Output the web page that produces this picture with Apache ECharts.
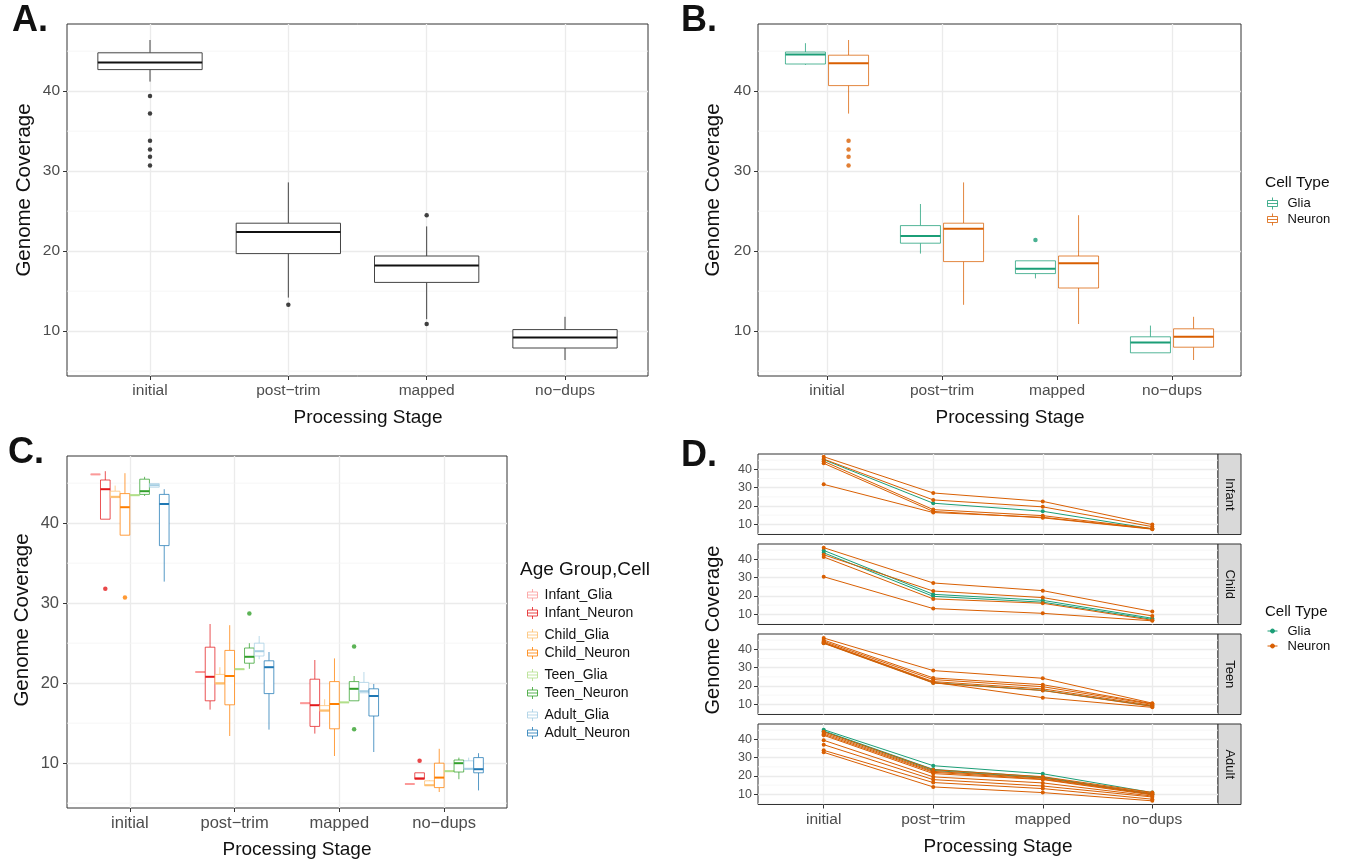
<!DOCTYPE html>
<html>
<head>
<meta charset="utf-8">
<script src="https://cdn.jsdelivr.net/npm/echarts@6/dist/echarts.min.js"></script>
<style>
  html, body { margin: 0; padding: 0; background: #fff; }
  #chart { width: 1346px; height: 861px; }
</style>
</head>
<body>
<div id="chart"></div>
<script>
// ---------- shared scales ----------
const stages = ['initial', 'post\u2212trim', 'mapped', 'no\u2212dups'];
const stageIdx = [0, 1, 2, 3];
const yTicks = [10, 20, 30, 40];
const yMinor = [5, 15, 25, 35, 45];
const yRange = [4.4, 48.4];

// ---------- A: all samples, [lower whisker, Q1, median, Q3, upper whisker] per stage ----------
const allBox = [
  [41.2, 42.7, 43.6, 44.8, 46.4],
  [14.2, 19.7, 22.4, 23.5, 28.6],
  [11.5, 16.1, 18.2, 19.4, 23.1],
  [6.4, 7.9, 9.2, 10.2, 11.8]
];
const allOut = [[39.4, 37.2, 33.8, 32.7, 31.8, 30.7], [13.3], [24.5, 10.9], []];

// ---------- B: by cell type ----------
const gliaBox = [
  [43.3, 43.4, 44.6, 44.9, 46.0],
  [19.7, 21.0, 21.9, 23.2, 25.9],
  [16.6, 17.2, 17.8, 18.8, 18.8],
  [7.3, 7.3, 8.6, 9.3, 10.7]
];
const gliaOut = [[], [], [21.4], []];
const neuronBox = [
  [37.2, 40.7, 43.5, 44.5, 46.4],
  [13.3, 18.7, 22.8, 23.5, 28.6],
  [10.9, 15.4, 18.5, 19.4, 24.5],
  [6.4, 8.0, 9.3, 10.3, 11.8]
];
const neuronOut = [[33.8, 32.7, 31.8, 30.7], [], [], []];

// ---------- C: by age group and cell type ----------
const infantGliaBox = [[46.1, 46.1, 46.1, 46.1, 46.1], [21.4, 21.4, 21.4, 21.4, 21.4], [17.5, 17.5, 17.5, 17.5, 17.5], [7.4, 7.4, 7.4, 7.4, 7.4]];
const infantGliaOut = [[], [], [], []];
const infantNeuronBox = [[40.5, 40.5, 44.25, 45.4, 46.5], [16.7, 17.8, 20.8, 24.5, 27.4], [13.7, 14.6, 17.25, 20.5, 22.9], [8.0, 8.0, 8.1, 8.8, 8.8]];
const infantNeuronOut = [[31.8], [], [], [10.3]];
const childGliaBox = [[43.2, 43.2, 43.3, 44.0, 44.7], [19.9, 19.9, 20.0, 21.1, 22.0], [16.5, 16.5, 16.6, 17.2, 18.0], [7.2, 7.2, 7.25, 7.8, 7.9]];
const childGliaOut = [[], [], [], []];
const childNeuronBox = [[38.5, 38.5, 42.0, 43.7, 46.25], [13.4, 17.3, 20.9, 24.1, 27.25], [10.9, 14.3, 17.4, 20.2, 23.1], [6.4, 6.95, 8.2, 10.0, 11.8]];
const childNeuronOut = [[30.7], [], [], []];
const teenGliaBox = [[43.5, 43.5, 43.5, 43.5, 43.5], [21.75, 21.75, 21.75, 21.75, 21.75], [17.6, 17.6, 17.6, 17.6, 17.6], [9.0, 9.0, 9.0, 9.0, 9.0]];
const teenGliaOut = [[], [], [], []];
const teenNeuronBox = [[43.4, 43.6, 44.0, 45.5, 45.8], [21.8, 22.5, 23.3, 24.4, 25.0], [17.8, 17.8, 19.3, 20.2, 20.9], [8.0, 8.9, 10.0, 10.4, 10.7]];
const teenNeuronOut = [[], [28.7], [24.6, 14.25], []];
const adultGliaBox = [[44.5, 44.5, 44.75, 44.95, 44.95], [23.0, 23.4, 24.0, 25.0, 25.9], [18.8, 18.8, 19.0, 20.1, 21.4], [9.25, 9.25, 9.3, 10.3, 10.7]];
const adultGliaOut = [[], [], [], []];
const adultNeuronBox = [[32.7, 37.2, 42.4, 43.6, 44.25], [14.2, 18.7, 22.0, 22.8, 23.9], [11.4, 15.9, 18.4, 19.3, 19.9], [6.6, 8.8, 9.25, 10.7, 11.25]];
const adultNeuronOut = [[], [], [], []];

const groupNames = ['Infant_Glia', 'Infant_Neuron', 'Child_Glia', 'Child_Neuron', 'Teen_Glia', 'Teen_Neuron', 'Adult_Glia', 'Adult_Neuron'];

// ---------- D: one line per sample, values at the four stages ----------
const ageGroups = ['Infant', 'Child', 'Teen', 'Adult'];
const infantGliaLines = [[45.3, 21.5, 17.1, 7.5]];
const infantNeuronLines = [
  [46.9, 27.1, 22.5, 9.8], [45.6, 23.3, 19.5, 8.7], [44.4, 18.0, 14.7, 7.6],
  [43.3, 17.0, 13.5, 7.3], [31.8, 16.4, 13.8, 7.5]
];
const childGliaLines = [[44.9, 20.9, 17.6, 7.8], [43.6, 19.8, 16.6, 7.2]];
const childNeuronLines = [
  [46.4, 27.1, 22.9, 11.5], [42.5, 22.7, 19.1, 9.1], [41.3, 18.4, 16.0, 6.7], [30.5, 13.1, 10.5, 6.4]
];
const teenGliaLines = [[43.5, 21.8, 17.6, 9.0]];
const teenNeuronLines = [
  [46.2, 28.4, 24.2, 10.6], [45.1, 24.4, 20.7, 10.3], [44.4, 23.5, 19.6, 10.0],
  [43.8, 22.4, 18.4, 9.4], [43.3, 21.6, 17.5, 8.8], [43.6, 22.0, 13.6, 8.3]
];
const adultGliaLines = [[45.3, 25.6, 21.2, 10.9], [44.6, 23.6, 19.4, 10.2], [44.3, 23.0, 19.0, 9.9]];
const adultNeuronLines = [
  [44.2, 23.4, 19.6, 11.0], [43.5, 22.5, 18.8, 10.5], [42.8, 22.0, 18.3, 10.0], [42.2, 21.3, 18.0, 9.6],
  [39.5, 19.5, 16.2, 9.0], [37.1, 18.0, 14.5, 8.5], [34.0, 16.4, 13.1, 7.3], [32.9, 14.0, 10.9, 6.4]
];

// ---------- styling ----------
const FONT = '"Liberation Sans", Arial, Helvetica, sans-serif';
const GLIA = '#1b9e77', NEURON = '#d95f02';
const groupColors = ['#fb9a99', '#e31a1c', '#fdbf6f', '#ff7f00', '#b2df8a', '#33a02c', '#a6cee3', '#1f78b4'];
const TICK_TEXT = '#4d4d4d', TITLE_TEXT = '#111', BORDER = '#333';
const GRID_MAJOR = '#ebebeb', GRID_MINOR = '#f5f5f5';
const BOX_ICON = 'path://M5,0V3M0,3H10V9H0ZM0,6H10M5,9V12';
const LINE_ICON = 'path://M0,2H10M3,2a2,2 0 1 0 4,0a2,2 0 1 0 -4,0';

function rgba(hex, a) {
  const n = parseInt(hex.slice(1), 16);
  return 'rgba(' + ((n >> 16) & 255) + ',' + ((n >> 8) & 255) + ',' + (n & 255) + ',' + a + ')';
}

// panel layout (pixels)
const grids = [
  { left: 67, top: 24, width: 581, height: 352 },     // A
  { left: 758, top: 24, width: 483, height: 352 },    // B
  { left: 67, top: 456, width: 440, height: 352 },    // C
  { left: 758, top: 454, width: 460, height: 80.5 },  // D Infant
  { left: 758, top: 544, width: 460, height: 80.5 },  // D Child
  { left: 758, top: 634, width: 460, height: 80.5 },  // D Teen
  { left: 758, top: 724, width: 460, height: 80.5 }   // D Adult
].map(g => Object.assign({ show: true, borderColor: BORDER, borderWidth: 1, backgroundColor: '#fff', containLabel: false, outerBoundsMode: 'none' }, g));

function xAxisFor(gi, showLabels, fontSize) {
  return {
    type: 'value', gridIndex: gi, min: -0.6, max: 3.6, position: 'bottom',
    axisLine: { show: false, onZero: false },
    axisTick: { show: showLabels, customValues: stageIdx, length: 4, lineStyle: { color: BORDER } },
    axisLabel: {
      show: showLabels, customValues: stageIdx, formatter: v => stages[Math.round(v)] || '',
      color: TICK_TEXT, fontSize: fontSize, fontFamily: FONT, margin: 7
    },
    splitLine: { show: true, lineStyle: { color: GRID_MAJOR, width: 1.3 } }
  };
}
function yAxisFor(gi, fontSize, margin) {
  return {
    type: 'value', gridIndex: gi, min: yRange[0], max: yRange[1], position: 'left',
    axisLine: { show: false, onZero: false },
    axisTick: { show: true, customValues: yTicks, length: 4, lineStyle: { color: BORDER } },
    axisLabel: { customValues: yTicks, color: TICK_TEXT, fontSize: fontSize, fontFamily: FONT, margin: margin },
    splitLine: { show: true, lineStyle: { color: GRID_MAJOR, width: 1.3 } }
  };
}

function minorGrid(gi) {
  return {
    type: 'custom', xAxisIndex: gi, yAxisIndex: gi, z: 1, silent: true,
    data: yMinor.map(v => [0, v]), encode: { x: 0, y: 1 },
    renderItem: (params, api) => {
      const cs = params.coordSys;
      const y = api.coord([0, api.value(1)])[1];
      return { type: 'line', shape: { x1: cs.x, y1: y, x2: cs.x + cs.width, y2: y }, style: { stroke: GRID_MINOR, lineWidth: 0.8 } };
    }
  };
}

function boxSeries(name, gi, boxes, offset, halfW, color, lineColor) {
  const stroke = lineColor || rgba(color, 0.75);
  return {
    type: 'custom', name: name, xAxisIndex: gi, yAxisIndex: gi, z: 3, silent: true,
    itemStyle: { color: color },
    encode: { x: 0, y: [1, 2, 3, 4, 5] },
    data: boxes.map((b, i) => [stageIdx[i] + offset].concat(b)),
    renderItem: (params, api) => {
      const x = api.value(0);
      const pt = k => api.coord([x, api.value(k)]);
      const lo = pt(1), q1 = pt(2), md = pt(3), q3 = pt(4), hi = pt(5);
      const xl = api.coord([x - halfW, yRange[0]])[0];
      const xr = api.coord([x + halfW, yRange[0]])[0];
      const cx = lo[0];
      return {
        type: 'group', children: [
          { type: 'line', shape: { x1: cx, y1: hi[1], x2: cx, y2: q3[1] }, style: { stroke: stroke, lineWidth: 1 } },
          { type: 'line', shape: { x1: cx, y1: q1[1], x2: cx, y2: lo[1] }, style: { stroke: stroke, lineWidth: 1 } },
          { type: 'rect', shape: { x: xl, y: q3[1], width: xr - xl, height: Math.max(q1[1] - q3[1], 0) }, style: { fill: '#fff', stroke: stroke, lineWidth: 1 } },
          { type: 'line', shape: { x1: xl, y1: md[1], x2: xr, y2: md[1] }, style: { stroke: color, lineWidth: 2 } }
        ]
      };
    }
  };
}

function outlierSeries(name, gi, outs, offset, color) {
  const data = [];
  outs.forEach((vals, i) => vals.forEach(v => data.push([stageIdx[i] + offset, v])));
  return {
    type: 'scatter', name: name, xAxisIndex: gi, yAxisIndex: gi, z: 4, silent: true,
    symbol: 'circle', symbolSize: 4.5, itemStyle: { color: color }, data: data
  };
}

function lineSeries(name, gi, vals, color) {
  return {
    type: 'line', name: name, xAxisIndex: gi, yAxisIndex: gi, z: 3, silent: true,
    data: vals.map((v, i) => [stageIdx[i], v]),
    symbol: 'circle', symbolSize: 4, showSymbol: true,
    lineStyle: { color: color, width: 1 }, itemStyle: { color: color }
  };
}

// ---------- axes ----------
const xAxes = [xAxisFor(0, true, 15.5), xAxisFor(1, true, 15.5), xAxisFor(2, true, 16.5),
  xAxisFor(3, false, 15), xAxisFor(4, false, 15), xAxisFor(5, false, 15), xAxisFor(6, true, 15.5)];
const yAxes = [yAxisFor(0, 15.5, 7), yAxisFor(1, 15.5, 7), yAxisFor(2, 16.5, 8),
  yAxisFor(3, 12.5, 6), yAxisFor(4, 12.5, 6), yAxisFor(5, 12.5, 6), yAxisFor(6, 12.5, 6)];

// ---------- series ----------
const series = [];
for (let gi = 0; gi < 7; gi++) series.push(minorGrid(gi));

// A
series.push(boxSeries('All samples', 0, allBox, 0, 0.377, '#111', '#444'));
series.push(outlierSeries('All samples', 0, allOut, 0, '#111'));

// B
series.push(boxSeries('Glia', 1, gliaBox, -0.1875, 0.174, GLIA));
series.push(outlierSeries('Glia', 1, gliaOut, -0.1875, GLIA));
series.push(boxSeries('Neuron', 1, neuronBox, 0.1875, 0.174, NEURON));
series.push(outlierSeries('Neuron', 1, neuronOut, 0.1875, NEURON));

// C
const cBoxes = [infantGliaBox, infantNeuronBox, childGliaBox, childNeuronBox, teenGliaBox, teenNeuronBox, adultGliaBox, adultNeuronBox];
const cOuts = [infantGliaOut, infantNeuronOut, childGliaOut, childNeuronOut, teenGliaOut, teenNeuronOut, adultGliaOut, adultNeuronOut];
cBoxes.forEach((boxes, k) => {
  const off = (k - 3.5) * 0.09375;
  series.push(boxSeries(groupNames[k], 2, boxes, off, 0.046, groupColors[k]));
  series.push(outlierSeries(groupNames[k], 2, cOuts[k], off, groupColors[k]));
});

// D
const dGlia = [infantGliaLines, childGliaLines, teenGliaLines, adultGliaLines];
const dNeuron = [infantNeuronLines, childNeuronLines, teenNeuronLines, adultNeuronLines];
ageGroups.forEach((age, r) => {
  dGlia[r].forEach(v => series.push(lineSeries('Glia', 3 + r, v, GLIA)));
  dNeuron[r].forEach(v => series.push(lineSeries('Neuron', 3 + r, v, NEURON)));
});

// ---------- legends ----------
function boxLegendItem(name, color) {
  return { name: name, icon: BOX_ICON, itemStyle: { color: '#fff', borderColor: rgba(color, 0.8), borderWidth: 1 } };
}
const legendText = size => ({ fontFamily: FONT, fontSize: size, color: TITLE_TEXT, lineHeight: 12, padding: [0, 0, 0, 2] });
const legends = [
  {
    left: 1267, top: 197, orient: 'vertical', itemWidth: 10, itemHeight: 12, itemGap: 3, padding: 0, selectedMode: false,
    textStyle: Object.assign(legendText(13), { padding: [0, 0, 0, 5] }),
    data: [boxLegendItem('Glia', GLIA), boxLegendItem('Neuron', NEURON)]
  },
  {
    left: 1267, top: 624.5, orient: 'vertical', itemWidth: 10, itemHeight: 4, itemGap: 2, padding: 0, selectedMode: false,
    textStyle: { fontFamily: FONT, fontSize: 13, color: TITLE_TEXT, lineHeight: 13, padding: [0, 0, 0, 5] },
    data: [
      { name: 'Glia', icon: LINE_ICON, itemStyle: { color: GLIA, borderColor: GLIA, borderWidth: 1 } },
      { name: 'Neuron', icon: LINE_ICON, itemStyle: { color: NEURON, borderColor: NEURON, borderWidth: 1 } }
    ]
  }
];
[0, 1, 2, 3].forEach(p => {
  legends.push({
    left: 527, top: 588 + 40 * p, orient: 'vertical', itemWidth: 10, itemHeight: 12, itemGap: 4, padding: 0, selectedMode: false,
    textStyle: legendText(14),
    data: [boxLegendItem(groupNames[2 * p], groupColors[2 * p]), boxLegendItem(groupNames[2 * p + 1], groupColors[2 * p + 1])]
  });
});

// ---------- titles, axis titles and facet strips ----------
function label(text, x, y, size, opts) {
  return Object.assign({
    type: 'text', x: x, y: y, silent: true,
    style: { text: text, fontFamily: FONT, fontSize: size, fill: TITLE_TEXT, align: 'center', verticalAlign: 'middle' }
  }, opts || {});
}
function panelTag(text, x, y) {
  return { type: 'text', x: x, y: y, silent: true,
    style: { text: text, fontFamily: FONT, fontSize: 36, fontWeight: 'bold', fill: '#111', align: 'left', verticalAlign: 'middle' } };
}
const graphics = [
  panelTag('A.', 12, 21),
  panelTag('B.', 681, 21),
  panelTag('C.', 8, 453),
  panelTag('D.', 681, 456),
  label('Processing Stage', 368, 418, 19),
  label('Processing Stage', 1010, 418, 19),
  label('Processing Stage', 297, 850, 19),
  label('Processing Stage', 998, 847, 19),
  label('Genome Coverage', 24, 190, 20.5, { rotation: Math.PI / 2 }),
  label('Genome Coverage', 713, 190, 20.5, { rotation: Math.PI / 2 }),
  label('Genome Coverage', 22, 620, 20.5, { rotation: Math.PI / 2 }),
  label('Genome Coverage', 713, 630, 20, { rotation: Math.PI / 2 }),
  { type: 'text', x: 1265, y: 183, silent: true, style: { text: 'Cell Type', fontFamily: FONT, fontSize: 15.5, fill: TITLE_TEXT, align: 'left', verticalAlign: 'middle' } },
  { type: 'text', x: 1265, y: 612, silent: true, style: { text: 'Cell Type', fontFamily: FONT, fontSize: 15, fill: TITLE_TEXT, align: 'left', verticalAlign: 'middle' } },
  { type: 'text', x: 520, y: 570, silent: true, style: { text: 'Age Group,Cell', fontFamily: FONT, fontSize: 19, fill: TITLE_TEXT, align: 'left', verticalAlign: 'middle' } }
];
ageGroups.forEach((age, r) => {
  const g = grids[3 + r];
  graphics.push({
    type: 'rect', silent: true, shape: { x: g.left + g.width, y: g.top, width: 23, height: g.height },
    style: { fill: '#d9d9d9', stroke: BORDER, lineWidth: 1 }
  });
  graphics.push(label(age, g.left + g.width + 11.5, g.top + g.height / 2, 13, { rotation: -Math.PI / 2 }));
});

const chart = echarts.init(document.getElementById('chart'), null, { renderer: 'canvas' });
chart.setOption({
  animation: false,
  backgroundColor: '#fff',
  textStyle: { fontFamily: FONT },
  grid: grids,
  xAxis: xAxes,
  yAxis: yAxes,
  legend: legends,
  graphic: graphics,
  series: series
});
</script>
</body>
</html>
